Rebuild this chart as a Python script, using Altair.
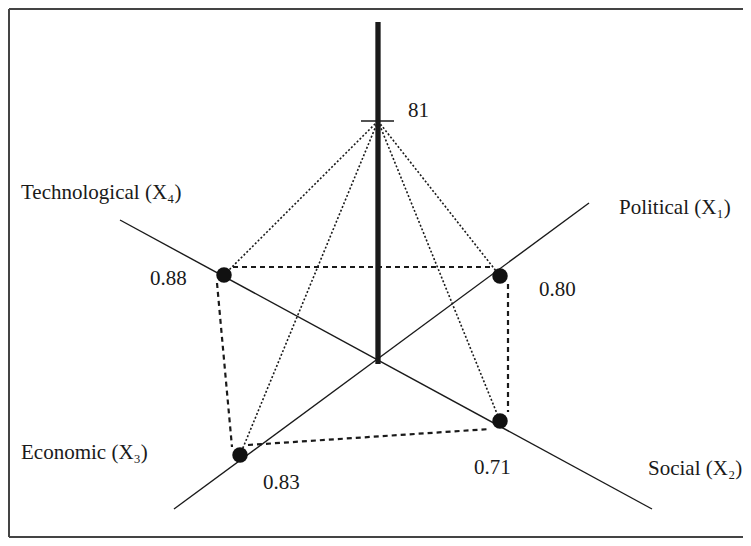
import altair as alt
import pandas as pd

# ---- data (diagram units = picture pixels, y downwards) ----
factors = ["Political (X₁)", "Social (X₂)", "Economic (X₃)", "Technological (X₄)"]
values = ["0.80", "0.71", "0.83", "0.88"]
point_x = [500, 500, 240, 224]
point_y = [276, 421, 455, 275]

factor_label_x = [619, 648, 21, 21]
factor_label_y = [214, 475, 459, 199]
value_label_x = [539, 474, 263, 150]
value_label_y = [296, 474, 489, 285]

apex_label = "81"
apex_x = 378
apex_y = 121
apex_label_x = 408
apex_label_y = 117

# axis lines (X1-X3 line and X4-X2 line)
axis_x1 = [174, 120]
axis_y1 = [509, 220]
axis_x2 = [589, 652]
axis_y2 = [203, 509]

# vertical pole and tick
pole_x = [378]
pole_y1 = [22]
pole_y2 = [364]
tick_x1 = [361]
tick_x2 = [394]
tick_y = [121]

# dashed links between factor points (top, right, bottom, left)
dash_x1 = [233, 508, 248, 217]
dash_y1 = [267, 284, 445, 283]
dash_x2 = [492, 508, 490, 232]
dash_y2 = [267, 412, 429, 447]

# frame (left, top, bottom)
frame_x1 = [9, 9, 9]
frame_y1 = [9, 9, 537]
frame_x2 = [9, 751, 751]
frame_y2 = [537, 9, 537]

W, H = 735, 530
xs = alt.Scale(domain=[8, 8 + W], nice=False, zero=False)
ys = alt.Scale(domain=[8, 8 + H], nice=False, zero=False, reverse=True)


def X(f):
    return alt.X(f, type="quantitative", scale=xs, axis=None)


def Y(f):
    return alt.Y(f, type="quantitative", scale=ys, axis=None)


def seg(df, **mk):
    return alt.Chart(df).mark_rule(**mk).encode(
        x=X("x1"), y=Y("y1"),
        x2=alt.X2("x2"), y2=alt.Y2("y2"),
    )


frame_df = pd.DataFrame({"x1": frame_x1, "y1": frame_y1, "x2": frame_x2, "y2": frame_y2})
axes_df = pd.DataFrame({"x1": axis_x1, "y1": axis_y1, "x2": axis_x2, "y2": axis_y2})
pole_df = pd.DataFrame({"x1": pole_x, "y1": pole_y1, "x2": pole_x, "y2": pole_y2})
tick_df = pd.DataFrame({"x1": tick_x1, "y1": tick_y, "x2": tick_x2, "y2": tick_y})
dash_df = pd.DataFrame({"x1": dash_x1, "y1": dash_y1, "x2": dash_x2, "y2": dash_y2})
dot_df = pd.DataFrame({"x1": [apex_x] * 4, "y1": [apex_y] * 4, "x2": point_x, "y2": point_y})

pts_df = pd.DataFrame({"x": point_x, "y": point_y, "factor": factors})
flab_df = pd.DataFrame({"x": factor_label_x, "y": factor_label_y, "t": factors})
vlab_df = pd.DataFrame({"x": value_label_x, "y": value_label_y, "t": values})
alab_df = pd.DataFrame({"x": [apex_label_x], "y": [apex_label_y], "t": [apex_label]})

frame = seg(frame_df, color="#444444", strokeWidth=2)
axes = seg(axes_df, color="#1a1a1a", strokeWidth=1.4)
dotted = seg(dot_df, color="#1a1a1a", strokeWidth=1.6, strokeDash=[2, 2])
dashed = seg(dash_df, color="#1a1a1a", strokeWidth=2.2, strokeDash=[5, 4])
pole = seg(pole_df, color="#1a1a1a", strokeWidth=5.3, strokeCap="butt")
tick = seg(tick_df, color="#1a1a1a", strokeWidth=1.4)

points = alt.Chart(pts_df).mark_circle(color="#111111", opacity=1, size=240).encode(
    x=X("x"), y=Y("y")
)


def texts(df):
    return alt.Chart(df).mark_text(
        font="Liberation Serif", fontSize=21, align="left", baseline="alphabetic", color="#1a1a1a"
    ).encode(x=X("x"), y=Y("y"), text="t:N")


chart = alt.layer(
    frame, axes, dotted, dashed, pole, tick, points,
    texts(flab_df), texts(vlab_df), texts(alab_df),
).properties(
    width=W, height=H, padding=0, autosize=alt.AutoSizeParams(type="none"), background="white"
).configure_view(stroke=None)

chart.save("out.html", embed_options={"renderer": "svg", "actions": False})
